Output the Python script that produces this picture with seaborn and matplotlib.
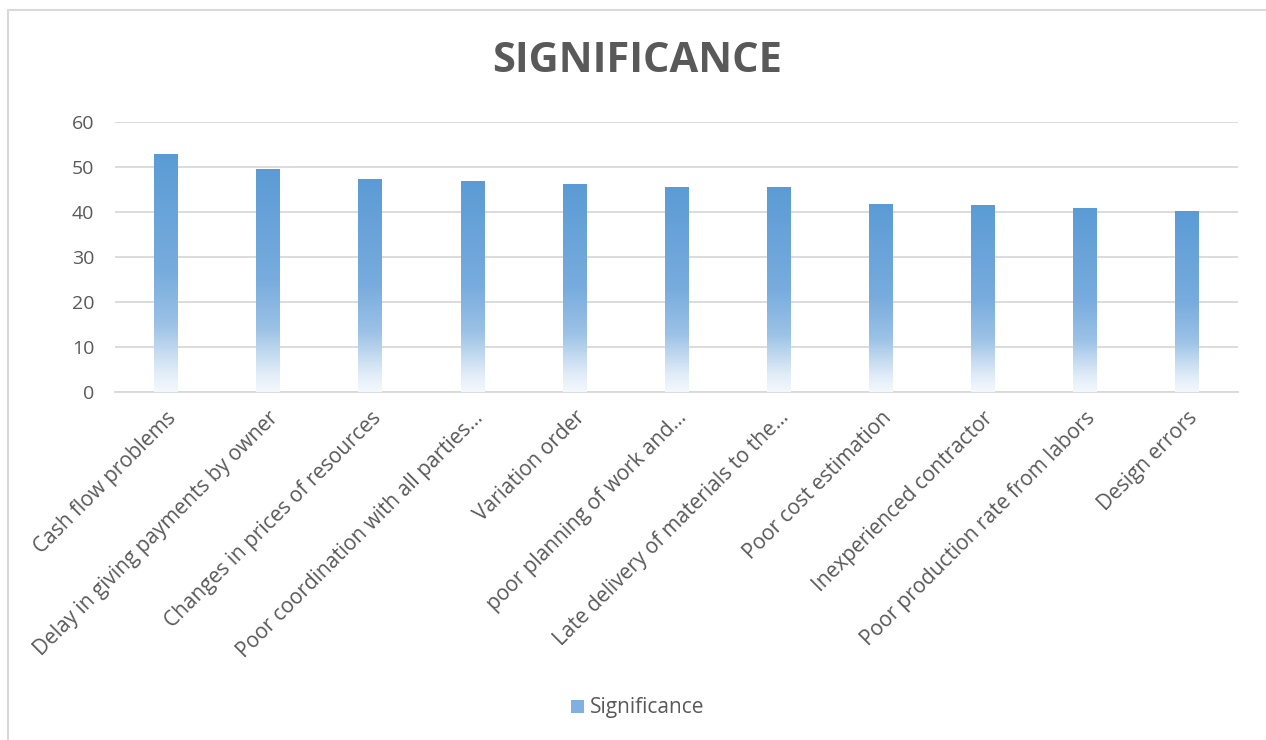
import numpy as np
import pandas as pd
import matplotlib
matplotlib.use("Agg")
import matplotlib.pyplot as plt
from matplotlib.lines import Line2D
from matplotlib.colors import LinearSegmentedColormap
import seaborn as sns

# Delay factors and their significance scores
factors = [
    "Cash flow problems",
    "Delay in giving payments by owner",
    "Changes in prices of resources",
    "Poor coordination with all parties\u2026",
    "Variation order",
    "poor planning of work and\u2026",
    "Late delivery of materials to the\u2026",
    "Poor cost estimation",
    "Inexperienced contractor",
    "Poor production rate from labors",
    "Design errors",
]
significance = [53.0, 49.6, 47.3, 46.9, 46.2, 45.6, 45.6, 41.8, 41.6, 40.9, 40.2]
y_ticks = [0, 10, 20, 30, 40, 50, 60]

df = pd.DataFrame({"factor": factors, "Significance": significance})

sns.set_theme(style="white")
plt.rcParams["font.family"] = ["Open Sans", "DejaVu Sans"]

TEXT = "#595959"
GRID = "#D9D9D9"
BLUE = "#5B9BD5"

fig = plt.figure(figsize=(12.66, 7.40), dpi=100)
ax = fig.add_axes([115 / 1266, 1 - 392 / 740, (1238 - 115) / 1266, (392 - 122) / 740])

sns.barplot(data=df, x="factor", y="Significance", color=BLUE, width=0.23,
            saturation=1, ax=ax, label="Significance", zorder=3)

# vertical gradient from solid blue at the top to near white at the base
grad = LinearSegmentedColormap.from_list("fade", [
    (0.00, (244 / 255, 248 / 255, 253 / 255)),
    (0.08, (226 / 255, 237 / 255, 248 / 255)),
    (0.18, (192 / 255, 216 / 255, 239 / 255)),
    (0.28, (156 / 255, 194 / 255, 230 / 255)),
    (0.50, (120 / 255, 172 / 255, 222 / 255)),
    (1.00, (91 / 255, 155 / 255, 213 / 255)),
])
ramp = np.linspace(0, 1, 256).reshape(-1, 1)
for patch in ax.patches:
    x0, w, h = patch.get_x(), patch.get_width(), patch.get_height()
    patch.set_facecolor("none")
    patch.set_edgecolor("none")
    img = ax.imshow(ramp, cmap=grad, origin="lower", aspect="auto",
                    extent=(x0, x0 + w, 0, h), zorder=3, interpolation="bilinear")
    img.set_clip_path(patch)

ax.set_xlim(-0.5, len(factors) - 0.5)
ax.set_ylim(0, 60)
ax.set_yticks(y_ticks)
ax.set_yticklabels([str(v) for v in y_ticks])
ax.yaxis.grid(True, color=GRID, linewidth=1.3, zorder=0)
ax.set_axisbelow(True)
for side in ["top", "right", "left"]:
    ax.spines[side].set_visible(False)
ax.spines["bottom"].set_color(GRID)
ax.spines["bottom"].set_linewidth(1.3)
ax.set_xlabel("")
ax.set_ylabel("")
ax.tick_params(axis="both", length=0, colors=TEXT)
ax.tick_params(axis="y", pad=15, labelsize=14)
ax.tick_params(axis="x", pad=11, labelsize=15)
plt.setp(ax.get_xticklabels(), rotation=45, ha="right", rotation_mode="anchor")

fig.text(637 / 1266, 1 - 62 / 740, "SIGNIFICANCE", ha="center", va="center",
         fontsize=30, fontweight="bold", color=TEXT)

leg = ax.legend(handles=[plt.Rectangle((0, 0), 1, 1, facecolor="#7FB0DF", edgecolor="none")],
                labels=["Significance"], loc="center", bbox_to_anchor=(638 / 1266, 1 - 708 / 740),
                bbox_transform=fig.transFigure, frameon=False, fontsize=15,
                handlelength=0.6, handleheight=0.6, handletextpad=0.3)
for t in leg.get_texts():
    t.set_color(TEXT)

# chart area border
fig.add_artist(Line2D([8 / 1266, 1.0], [1 - 10 / 740, 1 - 10 / 740],
                      transform=fig.transFigure, color=GRID, linewidth=1.5))
fig.add_artist(Line2D([8 / 1266, 8 / 1266], [0.0, 1 - 10 / 740],
                      transform=fig.transFigure, color=GRID, linewidth=1.5))

fig.savefig("out.png", dpi=100, facecolor="white")
